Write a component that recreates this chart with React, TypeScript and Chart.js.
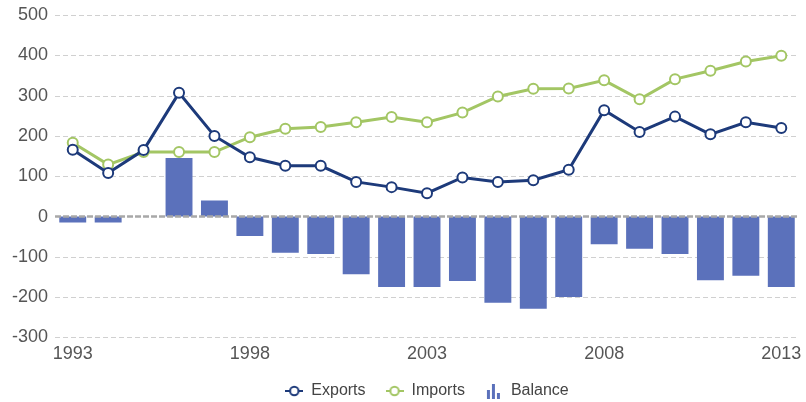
import React, { useEffect, useRef } from "react";
import { Chart, registerables } from "chart.js";

Chart.register(...registerables);

const years = [
  "1993", "1994", "1995", "1996", "1997", "1998", "1999", "2000", "2001", "2002", "2003",
  "2004", "2005", "2006", "2007", "2008", "2009", "2010", "2011", "2012", "2013",
];
const shownYears = ["1993", "1998", "2003", "2008", "2013"];
const exportsData = [166, 108, 165, 307, 200, 147, 126, 126, 86, 73, 58, 97, 86, 90, 116, 264, 210, 248, 204, 234, 220];
const importsData = [183, 129, 160, 160, 160, 197, 218, 222, 234, 247, 234, 258, 298, 317, 318, 338, 291, 341, 362, 385, 399];
const balanceData = [-15, -15, 0, 145, 40, -48, -90, -93, -143, -175, -175, -160, -214, -229, -200, -69, -80, -93, -158, -147, -175];

const NAVY = "#1d3a7a";
const GREEN = "#a3c664";
const BAR = "#5b71bb";
const FONT = "'Liberation Sans', Arial, Helvetica, sans-serif";

function lineIcon(color: string): HTMLCanvasElement {
  const c = document.createElement("canvas");
  c.width = 18;
  c.height = 12;
  const ctx = c.getContext("2d")!;
  ctx.strokeStyle = color;
  ctx.lineWidth = 2;
  ctx.beginPath();
  ctx.moveTo(0, 6);
  ctx.lineTo(18, 6);
  ctx.stroke();
  ctx.beginPath();
  ctx.arc(9, 6, 4.2, 0, Math.PI * 2);
  ctx.fillStyle = "#fff";
  ctx.fill();
  ctx.stroke();
  return c;
}

function barIcon(color: string): HTMLCanvasElement {
  const c = document.createElement("canvas");
  c.width = 16;
  c.height = 16;
  const ctx = c.getContext("2d")!;
  ctx.fillStyle = color;
  ctx.fillRect(1, 7, 3, 9);
  ctx.fillRect(6, 1, 3, 15);
  ctx.fillRect(11, 10, 3, 6);
  return c;
}

const gridLines = {
  id: "gridLines",
  beforeDatasetsDraw(chart: any) {
    const sc = chart.scales.y;
    const { left, right } = chart.chartArea;
    const ctx = chart.ctx;
    ctx.save();
    ctx.strokeStyle = "#d0d0d0";
    ctx.lineWidth = 1;
    ctx.setLineDash([5, 3]);
    sc.ticks.forEach((t: any) => {
      if (t.value === 0) return;
      const y = Math.round(sc.getPixelForValue(t.value)) + 0.5;
      ctx.beginPath();
      ctx.moveTo(left, y);
      ctx.lineTo(right, y);
      ctx.stroke();
    });
    ctx.restore();
  },
  afterDatasetsDraw(chart: any) {
    const y = chart.scales.y.getPixelForValue(0);
    const { left, right } = chart.chartArea;
    const ctx = chart.ctx;
    ctx.save();
    ctx.strokeStyle = "#a8a8a8";
    ctx.lineWidth = 2.5;
    ctx.setLineDash([6, 2]);
    ctx.beginPath();
    ctx.moveTo(left, y);
    ctx.lineTo(right, y);
    ctx.stroke();
    ctx.restore();
  },
};

export default function App() {
  const ref = useRef<HTMLCanvasElement>(null);
  useEffect(() => {
    if (!ref.current) return;
    const chart = new Chart(ref.current, {
      type: "bar",
      data: {
        labels: years,
        datasets: [
          {
            type: "line",
            label: "Exports",
            data: exportsData,
            borderColor: NAVY,
            backgroundColor: "#fff",
            borderWidth: 3,
            pointRadius: 5,
            pointBorderWidth: 2,
            pointBackgroundColor: "#fff",
            pointBorderColor: NAVY,
            order: 0,
            tension: 0,
          } as any,
          {
            type: "line",
            label: "Imports",
            data: importsData,
            borderColor: GREEN,
            backgroundColor: "#fff",
            borderWidth: 3,
            pointRadius: 5,
            pointBorderWidth: 2,
            pointBackgroundColor: "#fff",
            pointBorderColor: GREEN,
            order: 1,
            tension: 0,
          } as any,
          {
            type: "bar",
            label: "Balance",
            data: balanceData,
            backgroundColor: BAR,
            borderWidth: 0,
            barPercentage: 0.76,
            categoryPercentage: 1,
            order: 2,
          } as any,
        ],
      },
      options: {
        animation: false,
        responsive: false,
        layout: { padding: { top: 0, right: -4, left: 5, bottom: -7 } },
        plugins: {
          tooltip: { enabled: false },
          legend: {
            position: "bottom",
            fullSize: false,
            labels: {
              usePointStyle: true,
              pointStyleWidth: 18,
              padding: 20,
              color: "#444",
              font: { family: FONT, size: 16 },
              generateLabels: (chart: any) => {
                const icons = [lineIcon(NAVY), lineIcon(GREEN), barIcon(BAR)];
                return chart.data.datasets.map((ds: any, i: number) => ({
                  text: ds.label,
                  pointStyle: icons[i],
                  fillStyle: "#fff",
                  strokeStyle: "#fff",
                  lineWidth: 0,
                  hidden: false,
                  datasetIndex: i,
                  fontColor: "#444",
                }));
              },
            },
          },
        },
        scales: {
          x: {
            grid: { display: false },
            border: { display: false },
            ticks: {
              autoSkip: false,
              maxRotation: 0,
              color: "#555",
              font: { family: FONT, size: 18 },
              padding: -2,
              callback: (_v: any, i: number) => (shownYears.includes(years[i]) ? years[i] : ""),
            },
          },
          y: {
            min: -300,
            max: 500,
            border: { display: false },
            grid: { display: false, drawTicks: false },
            ticks: {
              stepSize: 100,
              color: "#555",
              font: { family: FONT, size: 18, lineHeight: 0.9 },
              padding: 7,
            },
          },
        },
      },
      plugins: [gridLines],
    });
    return () => chart.destroy();
  }, []);
  return (
    <div style={{ position: "absolute", left: 0, top: 0, width: 806, height: 402 }}>
      <canvas ref={ref} width={806} height={402} style={{ display: "block" }} />
    </div>
  );
}
